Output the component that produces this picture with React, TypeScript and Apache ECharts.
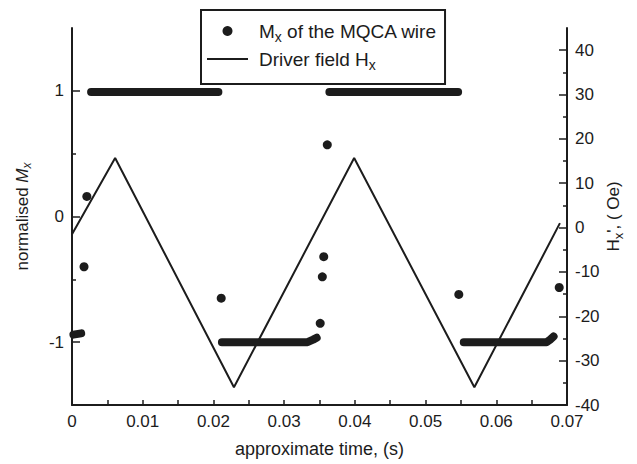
import React, { useEffect, useRef } from 'react';
import * as echarts from 'echarts';

const MX_NAME = 'Mx of the MQCA wire';
const H_NAME = 'Driver field Hx';

// axis ticks / labels
const timeTicks = [0, 0.005, 0.01, 0.015, 0.02, 0.025, 0.03, 0.035, 0.04, 0.045, 0.05, 0.055, 0.06, 0.065, 0.07];
const timeLabels = [0, 0.01, 0.02, 0.03, 0.04, 0.05, 0.06, 0.07];
const mxMajorTicks = [-1, 0, 1];
const mxMinorTicks = [-0.5, 0.5];
const hMajorTicks = [-40, -30, -20, -10, 0, 10, 20, 30, 40];
const hMinorTicks = [-35, -25, -15, -5, 5, 15, 25, 35];

// Mx: isolated switching points
const mxPointTimes = [0.0017, 0.0021, 0.0211, 0.0351, 0.0354, 0.0356, 0.0361, 0.0547, 0.0689];
const mxPointValues = [-0.4, 0.16, -0.65, -0.85, -0.48, -0.32, 0.57, -0.62, -0.565];

// Mx: dense runs of samples (plateaus)
const mxRun1 = [[0.0002, -0.94], [0.0013, -0.93]];
const mxRun2 = [[0.0027, 0.99], [0.0207, 0.99]];
const mxRun3 = [[0.0212, -1.0], [0.0333, -1.0], [0.0341, -0.98], [0.0346, -0.965]];
const mxRun4 = [[0.0364, 0.99], [0.0546, 0.99]];
const mxRun5 = [[0.0554, -1.0], [0.0671, -1.0], [0.0676, -0.98], [0.0681, -0.955]];
const mxRuns = [mxRun1, mxRun2, mxRun3, mxRun4, mxRun5];

// Driver field (Oe)
const driverTimes = [0, 0.0061, 0.0229, 0.0399, 0.0569, 0.069];
const driverValues = [-1.5, 15.7, -36, 15.7, -36, 1];

const INK = '#1c1c1c';
const FONT = 'Liberation Sans, Arial, Helvetica, sans-serif';
const LINE_ICON = 'path://M0,0L0,0ZM0,4H41V6H0ZM41,10L41,10Z';

export default function App() {
  const ref = useRef<HTMLDivElement>(null);
  useEffect(() => {
    if (!ref.current) return;
    const chart = echarts.init(ref.current, undefined, { renderer: 'svg' });
    const tickStyle = { color: INK, width: 1.5 };
    const option: any = {
      animation: false,
      textStyle: { fontFamily: FONT, color: INK },
      grid: { left: 72, right: 70, top: 28, bottom: 59, containLabel: false, outerBoundsMode: 'none' },
      legend: {
        orient: 'vertical',
        left: 201,
        top: 10,
        data: [{ name: MX_NAME, icon: 'circle' }, { name: H_NAME, icon: LINE_ICON }],
        itemWidth: 41,
        itemHeight: 10,
        itemGap: 2,
        borderColor: INK,
        borderWidth: 2,
        padding: [8, 8, 12, 6],
        selectedMode: false,
        formatter: (name: string) =>
          name === MX_NAME ? '{g| }{t|M}{s|x}{t| of the MQCA wire}' : '{g| }{t|Driver field H}{s|x}',
        textStyle: {
          fontFamily: FONT,
          color: INK,
          rich: {
            g: { width: 6, fontSize: 10 },
            t: { fontSize: 19, fontFamily: FONT, color: INK, lineHeight: 20 },
            s: { fontSize: 14, fontFamily: FONT, color: INK, lineHeight: 14, padding: [12, 0, 0, 0] },
          },
        },
      },
      xAxis: {
        type: 'value',
        min: 0,
        max: 0.07,
        name: 'approximate time, (s)',
        nameLocation: 'middle',
        nameGap: 35,
        nameTextStyle: { fontSize: 18, fontFamily: FONT, color: INK },
        axisLine: { show: true, onZero: false, lineStyle: { color: INK, width: 2 } },
        axisTick: { show: true, inside: true, length: 5, lineStyle: tickStyle, customValues: timeTicks },
        axisLabel: {
          fontSize: 17,
          color: INK,
          fontFamily: FONT,
          margin: 8,
          customValues: timeLabels,
          formatter: (v: number) => (v === 0 ? '0' : v.toFixed(2)),
        },
        splitLine: { show: false },
      },
      yAxis: [
        {
          type: 'value',
          position: 'left',
          min: -1.5,
          max: 1.5,
          name: '{n|normalised }{m|M}{s|x}',
          nameLocation: 'middle',
          nameRotate: 90,
          nameGap: 40,
          nameTextStyle: {
            rich: {
              n: { fontSize: 17, fontFamily: FONT, color: INK, lineHeight: 20 },
              m: { fontSize: 17, fontFamily: FONT, color: INK, fontStyle: 'italic', lineHeight: 20 },
              s: { fontSize: 12, fontFamily: FONT, color: INK, fontStyle: 'italic', lineHeight: 12, padding: [10, 0, 0, 0] },
            },
          },
          axisLine: { show: true, onZero: false, lineStyle: { color: INK, width: 2 } },
          axisTick: { show: true, inside: true, length: 8, lineStyle: tickStyle, customValues: mxMajorTicks },
          axisLabel: { fontSize: 17, color: INK, fontFamily: FONT, margin: 8, customValues: mxMajorTicks },
          splitLine: { show: false },
        },
        {
          type: 'value',
          position: 'left',
          min: -1.5,
          max: 1.5,
          axisLine: { show: false, onZero: false },
          axisTick: { show: true, inside: true, length: 4, lineStyle: tickStyle, customValues: mxMinorTicks },
          axisLabel: { show: false },
          splitLine: { show: false },
        },
        {
          type: 'value',
          position: 'right',
          min: -40,
          max: 45,
          name: '{t|H}{s|x}{t|\', ( Oe)}',
          nameLocation: 'middle',
          nameRotate: 90,
          nameGap: 36,
          nameMoveOverlap: false,
          nameTextStyle: {
            rich: {
              t: { fontSize: 17, fontFamily: FONT, color: INK, lineHeight: 20 },
              s: { fontSize: 13, fontFamily: FONT, color: INK, lineHeight: 13, padding: [11, 0, 0, 0] },
            },
          },
          axisLine: { show: true, onZero: false, lineStyle: { color: INK, width: 2 } },
          axisTick: { show: true, inside: true, length: 8, lineStyle: tickStyle, customValues: hMajorTicks },
          axisLabel: { fontSize: 17, color: INK, fontFamily: FONT, margin: 8, customValues: hMajorTicks },
          splitLine: { show: false },
        },
        {
          type: 'value',
          position: 'right',
          min: -40,
          max: 45,
          axisLine: { show: false, onZero: false },
          axisTick: { show: true, inside: true, length: 4, lineStyle: tickStyle, customValues: hMinorTicks },
          axisLabel: { show: false },
          splitLine: { show: false },
        },
      ],
      series: [
        {
          name: H_NAME,
          type: 'line',
          yAxisIndex: 2,
          data: driverTimes.map((t, i) => [t, driverValues[i]]),
          showSymbol: false,
          symbol: 'none',
          lineStyle: { color: INK, width: 2 },
          itemStyle: { color: INK },
          z: 2,
        },
        ...mxRuns.map((run, i) => ({
          name: 'run' + i,
          type: 'line',
          yAxisIndex: 0,
          data: run,
          symbol: 'none',
          showSymbol: false,
          lineStyle: { color: INK, width: 8, cap: 'round', join: 'round' },
          itemStyle: { color: INK },
          z: 3,
        })),
        {
          name: MX_NAME,
          type: 'scatter',
          yAxisIndex: 0,
          symbol: 'circle',
          symbolSize: 9,
          data: mxPointTimes.map((t, i) => [t, mxPointValues[i]]),
          itemStyle: { color: INK, opacity: 1 },
          z: 3,
        },
      ],
    };
    chart.setOption(option);
    return () => chart.dispose();
  }, []);
  return (
    <div
      ref={ref}
      style={{ position: 'fixed', left: 0, top: 0, width: 637, height: 464, background: '#fff' }}
    />
  );
}
